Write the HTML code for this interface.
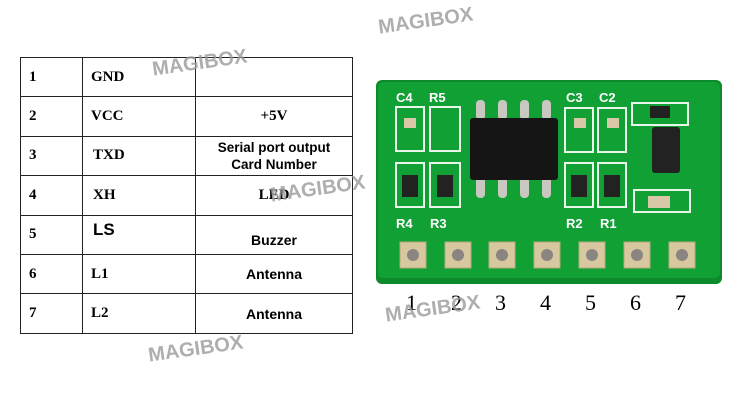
<!DOCTYPE html>
<html><head><style>
body{margin:0;background:#fff;width:745px;height:400px;overflow:hidden;position:relative;font-family:"Liberation Serif",serif}
table{position:absolute;left:20px;top:57px;border-collapse:collapse;table-layout:fixed;width:332px}
tr{height:39.4px}
td{border:1.5px solid #222;padding:0;font-weight:bold;font-size:15px;overflow:hidden;white-space:nowrap;box-sizing:border-box}
.s{font-family:"Liberation Sans",sans-serif;font-size:14px;text-align:center}
.wm{position:absolute;font-family:"Liberation Sans",sans-serif;font-weight:bold;font-size:20px;color:#9a9a9a;opacity:.8;transform:rotate(-8deg)}
.n{position:absolute;top:290px;font-size:22px}
</style></head><body>
<table>
<colgroup><col style="width:62px"><col style="width:113px"><col style="width:157px"></colgroup>
<tr><td style="padding-left:8px">1</td><td style="padding-left:8px">GND</td><td></td></tr>
<tr><td style="padding-left:8px">2</td><td style="padding-left:8px">VCC</td><td style="text-align:center">+5V</td></tr>
<tr><td style="padding-left:8px">3</td><td style="padding-left:10px">TXD</td><td class="s" style="line-height:17px;font-size:13.5px">Serial port output<br>Card Number</td></tr>
<tr><td style="padding-left:8px">4</td><td style="padding-left:10px">XH</td><td style="text-align:center">LED</td></tr>
<tr><td style="padding-left:8px">5</td><td style="padding-left:10px;font-family:'Liberation Sans',sans-serif;font-size:17px;line-height:17px;padding-bottom:10px">LS</td><td class="s" style="padding-top:10px">Buzzer</td></tr>
<tr><td style="padding-left:8px">6</td><td style="padding-left:8px">L1</td><td class="s">Antenna</td></tr>
<tr><td style="padding-left:8px">7</td><td style="padding-left:8px">L2</td><td class="s">Antenna</td></tr>
</table>
<svg style="position:absolute;left:0;top:0" width="745" height="400">
<rect x="376" y="80" width="346" height="204" rx="6" fill="#0c8a2c"/>
<rect x="378" y="82" width="342" height="196" rx="5" fill="#10a034"/>
<g fill="none" stroke="#e8f5e8" stroke-width="2">
<rect x="396" y="107" width="28" height="44"/><rect x="430" y="107" width="30" height="44"/>
<rect x="396" y="163" width="28" height="44"/><rect x="430" y="163" width="30" height="44"/>
<rect x="565" y="108" width="28" height="44"/><rect x="598" y="108" width="28" height="44"/>
<rect x="565" y="163" width="28" height="44"/><rect x="598" y="163" width="28" height="44"/>
<rect x="632" y="103" width="56" height="22"/><rect x="634" y="190" width="56" height="22"/>
</g>
<g fill="#fff" font-family="Liberation Sans,sans-serif" font-weight="bold" font-size="13">
<text x="396" y="102">C4</text><text x="429" y="102">R5</text><text x="566" y="102">C3</text><text x="599" y="102">C2</text>
<text x="396" y="228">R4</text><text x="430" y="228">R3</text><text x="566" y="228">R2</text><text x="600" y="228">R1</text>
</g>
<g fill="#d9c8a8"><rect x="404" y="118" width="12" height="10"/><rect x="574" y="118" width="12" height="10"/><rect x="607" y="118" width="12" height="10"/><rect x="648" y="196" width="22" height="12"/></g>
<g fill="#222"><rect x="402" y="175" width="16" height="22"/><rect x="437" y="175" width="16" height="22"/><rect x="571" y="175" width="16" height="22"/><rect x="604" y="175" width="16" height="22"/><rect x="650" y="106" width="20" height="12"/><rect x="652" y="127" width="28" height="46" rx="3"/></g>
<g fill="#c8c8c0">
<rect x="476" y="100" width="9" height="20" rx="4"/><rect x="498" y="100" width="9" height="20" rx="4"/><rect x="520" y="100" width="9" height="20" rx="4"/><rect x="542" y="100" width="9" height="20" rx="4"/>
<rect x="476" y="176" width="9" height="22" rx="4"/><rect x="498" y="176" width="9" height="22" rx="4"/><rect x="520" y="176" width="9" height="22" rx="4"/><rect x="542" y="176" width="9" height="22" rx="4"/>
</g>
<rect x="470" y="118" width="88" height="62" rx="3" fill="#151515"/>
<g fill="#d8c8a0" stroke="#b8a880">
<rect x="400" y="242" width="26" height="26"/><rect x="445" y="242" width="26" height="26"/><rect x="489" y="242" width="26" height="26"/><rect x="534" y="242" width="26" height="26"/><rect x="579" y="242" width="26" height="26"/><rect x="624" y="242" width="26" height="26"/><rect x="669" y="242" width="26" height="26"/>
</g>
<g fill="#8a8580"><circle cx="413" cy="255" r="6"/><circle cx="458" cy="255" r="6"/><circle cx="502" cy="255" r="6"/><circle cx="547" cy="255" r="6"/><circle cx="592" cy="255" r="6"/><circle cx="637" cy="255" r="6"/><circle cx="682" cy="255" r="6"/></g>
</svg>
<span class="n" style="left:406px">1</span><span class="n" style="left:451px">2</span><span class="n" style="left:495px">3</span><span class="n" style="left:540px">4</span><span class="n" style="left:585px">5</span><span class="n" style="left:630px">6</span><span class="n" style="left:675px">7</span>
<div class="wm" style="left:152px;top:52px">MAGIBOX</div>
<div class="wm" style="left:378px;top:10px">MAGIBOX</div>
<div class="wm" style="left:270px;top:178px">MAGIBOX</div>
<div class="wm" style="left:385px;top:298px">MAGIBOX</div>
<div class="wm" style="left:148px;top:338px">MAGIBOX</div>
</body></html>
